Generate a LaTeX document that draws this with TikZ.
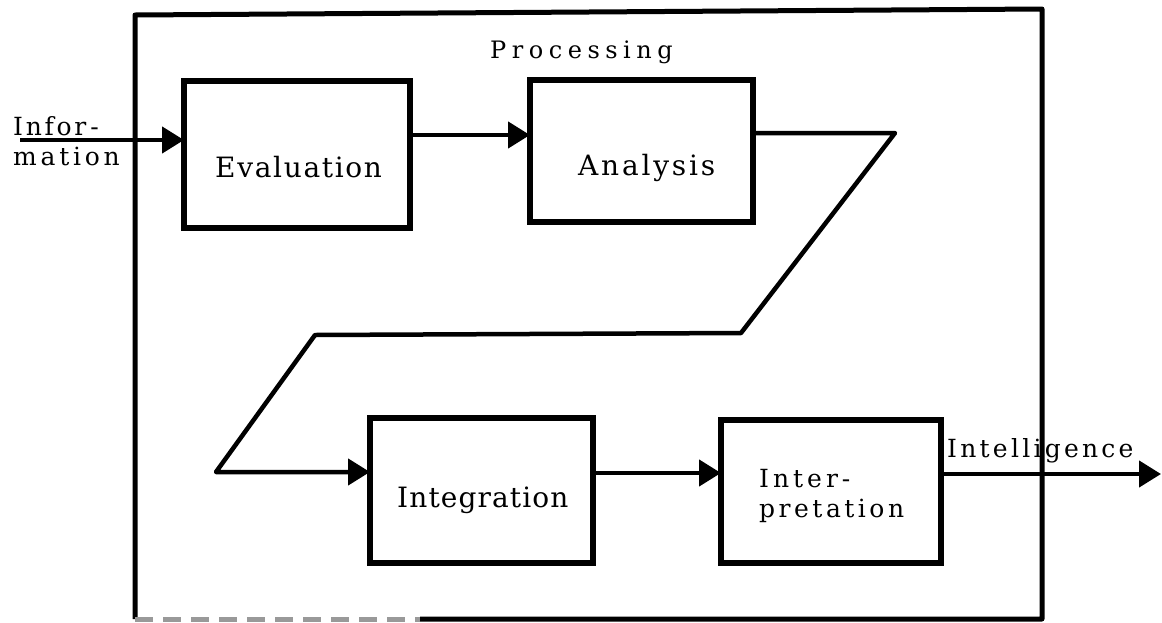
\documentclass[tikz,border=0pt]{standalone}
\usepackage{fontspec}
\newfontfamily\diagfont{DejaVu Serif}
\usetikzlibrary{arrows.meta}
\newcommand{\spaced}[2]{\addfontfeatures{LetterSpace=#1}#2}
\begin{document}
\begin{tikzpicture}[x=1pt,y=-1pt,
  stage/.style={draw, line width=5.5pt, inner sep=0pt, outer sep=0pt},
  flow/.style={line width=4.5pt, line join=round, -{Triangle[length=22pt,width=26pt]}},
  frame/.style={line width=5pt, line join=round},
  biglbl/.style={inner sep=0pt, font=\diagfont\fontsize{28}{30}\selectfont},
  midlbl/.style={inner sep=0pt, font=\diagfont\fontsize{25}{30}\selectfont},
  toplbl/.style={inner sep=0pt, font=\diagfont\fontsize{24}{26}\selectfont}]
\useasboundingbox (0,0) rectangle (1162,622);

% outer processing frame
\draw[frame] (420,619) -- (1042,619) -- (1042,9) -- (135,15) -- (135,619);
\draw[frame, black!40, dash pattern=on 18pt off 10pt] (135,619) -- (420,619);
\node[toplbl, anchor=base west] (proc) at (490,58) {\spaced{23}{Processing}};

% the four stages
\node[stage, minimum width=226pt, minimum height=147pt] (eval) at (297,154.5) {};
\node[stage, minimum width=223pt, minimum height=142pt] (anal) at (641.5,151) {};
\node[stage, minimum width=223pt, minimum height=145pt] (integ) at (481.5,490.5) {};
\node[stage, minimum width=220pt, minimum height=143pt] (interp) at (831,491.5) {};

\node[biglbl, anchor=base west] (evalt) at (215,177) {\spaced{6}{Evaluation}};
\node[biglbl, anchor=base west] (analt) at (578,175) {\spaced{10}{Analysis}};
\node[biglbl, anchor=base west] (integt) at (397,507) {\spaced{4}{Integration}};
\node[midlbl, anchor=base west] (interpa) at (759,487) {\spaced{16}{Inter\kern4pt-}};
\node[midlbl, anchor=base west] (interpb) at (759,517) {\spaced{14}{pretation}};

% input and output labels
\node[midlbl, anchor=base west] (infoa) at (13,135) {\spaced{11}{Infor\kern4pt-}};
\node[midlbl, anchor=base west] (infob) at (13,165) {\spaced{15}{mation}};
\node[midlbl, anchor=base west] (intel) at (947,457) {\spaced{13}{Intelligence}};

% connectors
\coordinate (infostart) at (20,140);
\coordinate (ea) at (0,135);
\coordinate (z1) at (895,133);
\coordinate (z2) at (741,333);
\coordinate (z3) at (315,335);
\coordinate (z4) at (216,472);
\coordinate (ii) at (0,473);
\coordinate (outend) at (1161,474);

\draw[flow] (infostart) -- (infostart -| eval.west);
\draw[flow] (eval.east |- ea) -- (anal.west |- ea);
\draw[flow] (anal.east |- z1) -- (z1) -- (z2) -- (z3) -- (z4) -- (z4 -| integ.west);
\draw[flow] (integ.east |- ii) -- (interp.west |- ii);
\draw[flow] (interp.east |- outend) -- (outend);
\end{tikzpicture}
\end{document}
